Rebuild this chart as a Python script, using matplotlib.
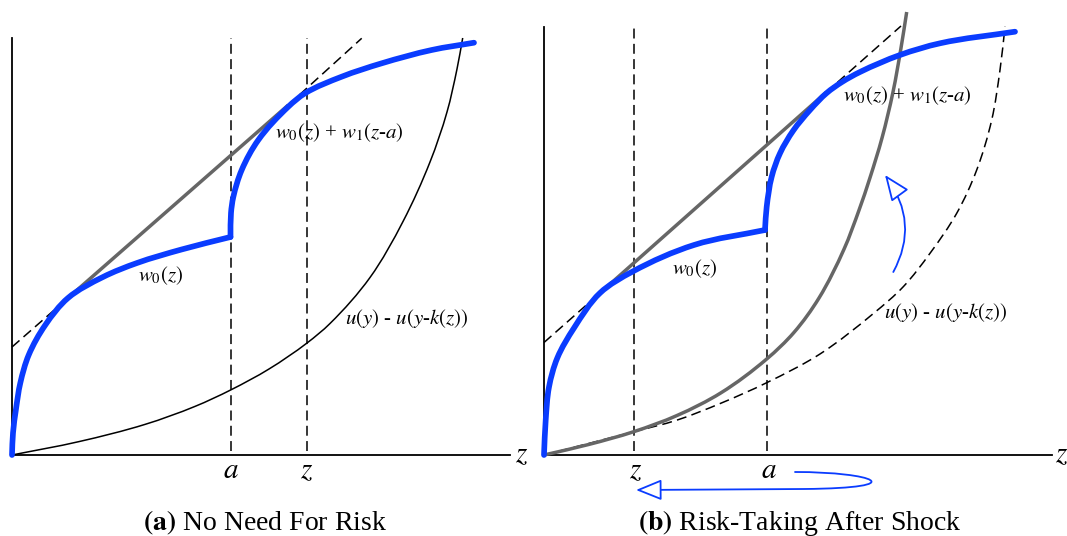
"""
Two panels: w0(z) with a jump at a, tangent line, and the cost curve
u(y) - u(y-k(z)); panel (b) shows the cost curve shifting after a shock.
"""

import numpy as np
import matplotlib.pyplot as plt
from matplotlib.patches import FancyArrowPatch, PathPatch
from matplotlib.path import Path

plt.rcParams['font.family'] = ['Liberation Serif', 'DejaVu Serif']
plt.rcParams['mathtext.fontset'] = 'stix'

BLUE = '#0a3cff'
GRAY = '#666666'
DASH = (0, (6.5, 3.5))

# ---- panel (a): values (origin at the axes corner)
a_pos_a = 219
z_pos_a = 295
top_a = 417
xend_a = 498

w0_x_a = [0, 1, 4, 8.3, 16.7, 33.3, 56, 91, 125, 169.5, 218.5]
w0_y_a = [0, 22, 46, 72, 100, 130, 157, 178, 192, 205.5, 218]
w1_x_a = [218.5, 219, 221.3, 229.7, 246.3, 276.3, 293, 329.7, 369.7, 419.7, 462]
w1_y_a = [218, 242, 258, 285, 315, 348.3, 361.7, 378.3, 391.7, 405, 412.3]

tan_x_a = [0, 56, 276.3, 349.7]     # dashed start, tangent pts, dashed end
tan_y_a = [108, 157, 350, 416.7]

cost_x_a = [0, 67, 133, 183, 219, 257, 295, 318, 358, 391, 418,
            435, 445, 450.7]
cost_y_a = [0, 13.4, 30.6, 48.6, 65.2, 86, 112, 131.5, 177.5, 233.5, 293,
            343, 386, 417]

# ---- panel (b)
a_pos_b = 222.7
z_pos_b = 90
top_b = 428
xend_b = 508

w0_x_b = [0, 1.7, 5, 13.3, 30, 56, 88.7, 150, 221]
w0_y_b = [0, 35, 68, 97, 127, 162, 183.5, 210, 225]
w1_x_b = [221, 222.7, 227.7, 236, 249.3, 266, 282.7, 298, 316, 356, 396, 471]
w1_y_b = [225, 248.3, 278.3, 301.7, 324.5, 345, 362, 373, 383, 400, 411.7, 423.3]

tan_x_b = [0, 56, 282, 357]
tan_y_b = [112.5, 162, 362.5, 429]

new_x_b = [0, 45, 90, 133, 177, 222.7, 250, 275, 300, 315, 326, 338, 349,
           357, 362.7]
new_y_b = [0, 10.6, 23.4, 39.5, 62.2, 96, 122.6, 157, 205.8, 244.8, 277.3,
           317, 363, 407, 443]

old_x_b = [0, 90, 133.3, 176.7, 222.7, 276, 330, 359.3, 386, 412.7,
           432.7, 447.7, 456, 461]
old_y_b = [0, 23.3, 35, 51.7, 72.3, 101, 142, 168.3, 201.7, 241.7,
           285, 335, 385, 428.3]


def smooth_path(xs, ys):
    """Smooth Bezier curve through the read points (chord-length tangents)."""
    p = np.column_stack([xs, ys]).astype(float)
    seg = np.diff(p, axis=0)
    lens = np.hypot(seg[:, 0], seg[:, 1])
    unit = seg / lens[:, None]
    tang = np.vstack([unit[0], unit[:-1] + unit[1:], unit[-1]])
    tang /= np.hypot(tang[:, 0], tang[:, 1])[:, None]
    verts = [p[0]]
    codes = [Path.MOVETO]
    for i in range(len(p) - 1):
        verts += [p[i] + tang[i] * lens[i] / 3,
                  p[i + 1] - tang[i + 1] * lens[i] / 3, p[i + 1]]
        codes += [Path.CURVE4] * 3
    return Path(verts, codes)


def add_curve(ax, xs, ys, **kw):
    ax.add_patch(PathPatch(smooth_path(xs, ys), fill=False, **kw))


def draw_panel(ax, top, xend, a_pos, z_pos, w0x, w0y, w1x, w1y, tx, ty):
    ax.plot([0, 0], [0, top], color='black', lw=1.3)
    ax.plot([0, xend], [0, 0], color='black', lw=1.3)
    for xv in (a_pos, z_pos):
        ax.plot([xv, xv], [4, top], color='black', lw=1.1, ls=DASH)
    # dashed tangent line outside the solid gray chord
    ax.plot(tx[:2], ty[:2], color='black', lw=1.1, ls=DASH)
    ax.plot(tx[2:], ty[2:], color='black', lw=1.1, ls=DASH)
    ax.plot(tx[1:3], ty[1:3], color=GRAY, lw=2.5, solid_capstyle='butt',
            zorder=3)
    for xs, ys in ((w0x, w0y), (w1x, w1y)):
        add_curve(ax, xs, ys, edgecolor=BLUE, lw=4.1, capstyle='round',
                  joinstyle='round', zorder=4)


fig = plt.figure(figsize=(10.67, 5.36), dpi=100)

ax1 = fig.add_axes([0, 0, 0.5, 1])
ax1.set_xlim(-12, 521.5)
ax1.set_ylim(-81, 455)
ax1.axis('off')
draw_panel(ax1, top_a, xend_a, a_pos_a, z_pos_a,
           w0_x_a, w0_y_a, w1_x_a, w1_y_a, tan_x_a, tan_y_a)
add_curve(ax1, cost_x_a, cost_y_a, edgecolor='black', lw=1.1)

ax2 = fig.add_axes([0.5, 0, 0.5, 1])
ax2.set_xlim(-10.5, 523)
ax2.set_ylim(-81, 455)
ax2.axis('off')
draw_panel(ax2, top_b, xend_b, a_pos_b, z_pos_b,
           w0_x_b, w0_y_b, w1_x_b, w1_y_b, tan_x_b, tan_y_b)
add_curve(ax2, old_x_b, old_y_b, edgecolor='black', lw=1.1, linestyle=DASH)
add_curve(ax2, new_x_b, new_y_b, edgecolor=GRAY, lw=2.5, zorder=3)

lab = dict(fontsize=15, va='center', ha='left')
ax1.text(126, 179, r'$w_0(z)$', **lab)
ax1.text(263, 322, r'$w_0(z)$ + $w_1(z$-$a)$', **lab)
ax1.text(333, 136, r'$u(y)$ - $u(y$-$k(z))$', **lab)
ax2.text(128, 186, r'$w_0(z)$', **lab)
ax2.text(299, 359, r'$w_0(z)$ + $w_1(z$-$a)$', **lab)
ax2.text(340, 143, r'$u(y)$ - $u(y$-$k(z))$', **lab)

tick = dict(fontsize=21, ha='center', va='top')
ax1.text(a_pos_a, -3, r'$a$', **tick)
ax1.text(z_pos_a, -3, r'$z$', **tick)
ax1.text(xend_a + 5, 0, r'$z$', fontsize=21, ha='left', va='center')
ax2.text(a_pos_b + 2, -3, r'$a$', **tick)
ax2.text(z_pos_b + 2, -3, r'$z$', **tick)
ax2.text(xend_b + 3, 0, r'$z$', fontsize=21, ha='left', va='center')

ax1.text(253, -75, r'$\mathbf{(a)}$ No Need For Risk', fontsize=20,
         ha='center', va='baseline')
ax2.text(256, -75, r'$\mathbf{(b)}$ Risk-Taking After Shock', fontsize=20,
         ha='center', va='baseline')

# blue arrows in panel (b)
head = '-|>,head_length=16,head_width=6.5'
arr_up = Path([(349.3, 183), (376, 232), (341, 280)],
              [Path.MOVETO, Path.CURVE3, Path.CURVE3])
ax2.add_patch(FancyArrowPatch(path=arr_up, arrowstyle=head, color=BLUE,
                              fc='white', lw=1.3, clip_on=False))
arr_left = Path([(251, -17), (330, -17), (370, -33), (260, -34), (92, -35)],
                [Path.MOVETO, Path.CURVE4, Path.CURVE4, Path.CURVE4, Path.LINETO])
ax2.add_patch(FancyArrowPatch(path=arr_left, arrowstyle=head, color=BLUE,
                              fc='white', lw=1.3, clip_on=False))

plt.savefig('out.png', dpi=100)
